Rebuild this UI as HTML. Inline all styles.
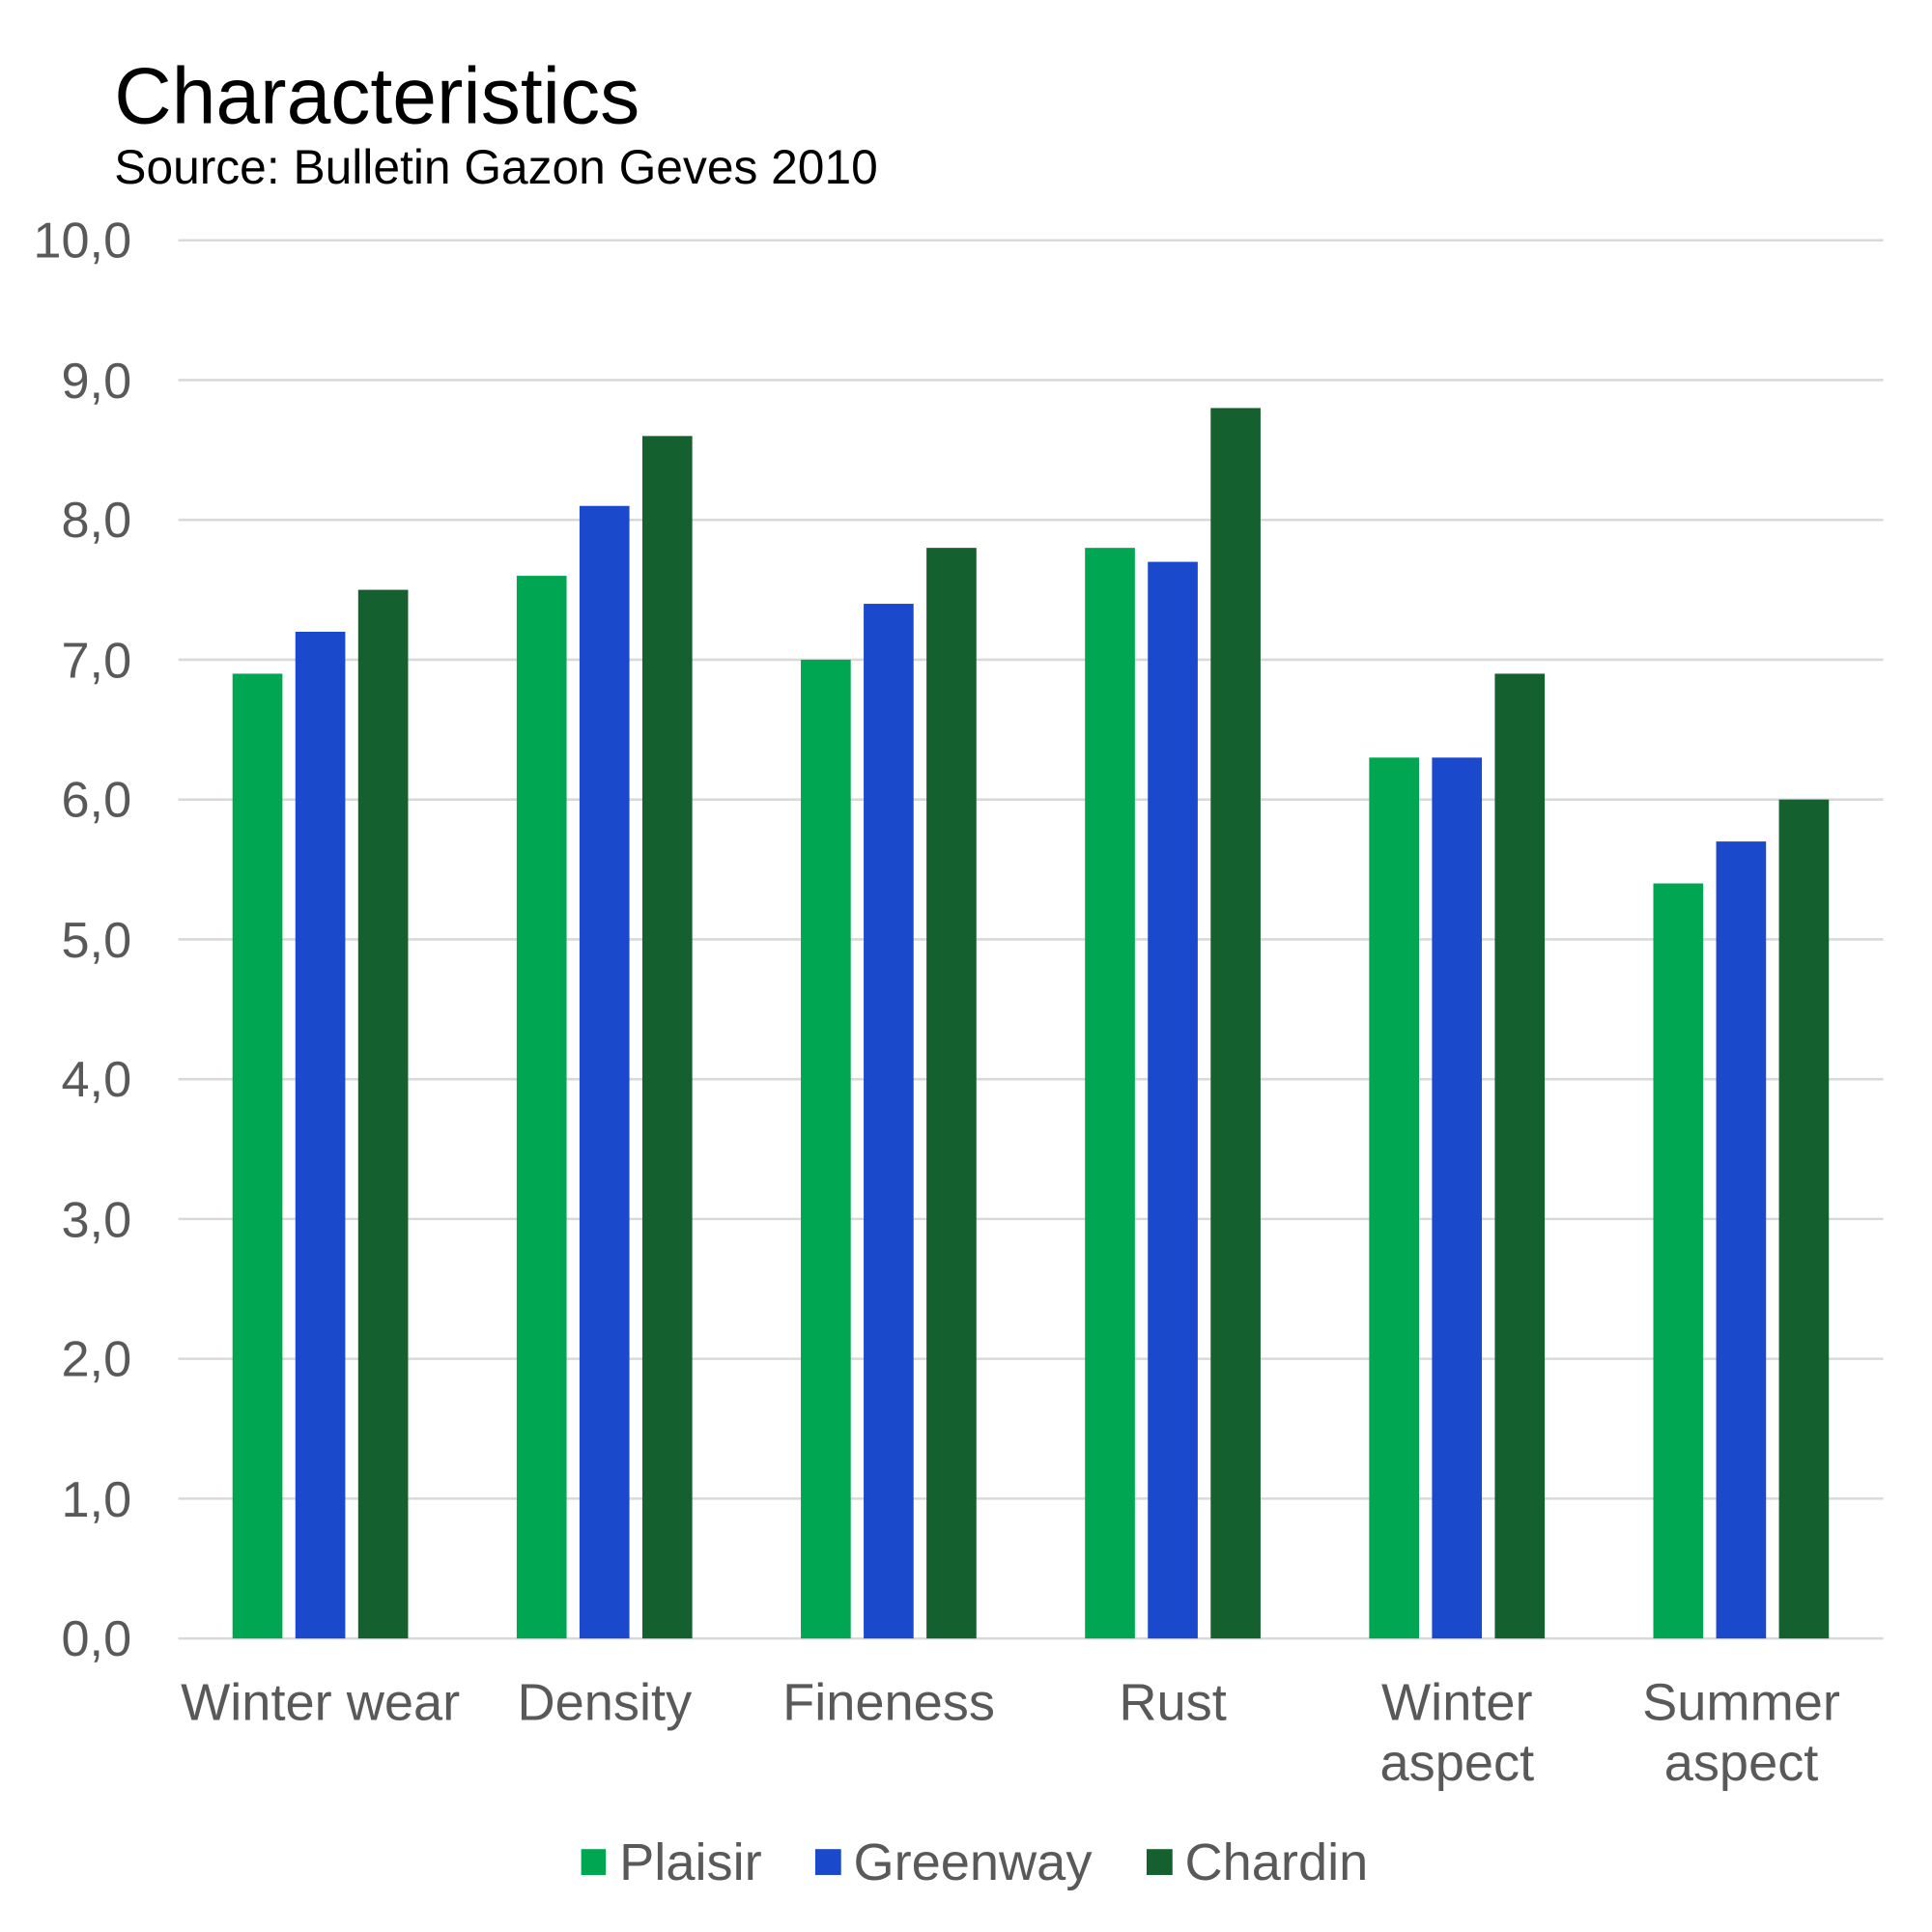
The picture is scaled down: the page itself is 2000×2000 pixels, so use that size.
<!DOCTYPE html>
<html><head><meta charset="utf-8"><style>html,body{margin:0;padding:0;background:#fff}svg{display:block}</style></head>
<body>
<svg width="2000" height="2000" viewBox="0 0 1560 1560" xmlns="http://www.w3.org/2000/svg" font-family="Liberation Sans, Arial, sans-serif">
<rect width="1560" height="1560" fill="#fff"/>
<g transform="translate(144,194) scale(0.9947) translate(-144,-194)">
<text x="92" y="99" font-size="64.5" fill="#000">Characteristics</text>
<text x="92" y="148" font-size="39" fill="#000">Source: Bulletin Gazon Geves 2010</text>
<g stroke="#d9d9d9" stroke-width="2">
<line x1="144" x2="1528" y1="194" y2="194"/><line x1="144" x2="1528" y1="307.5" y2="307.5"/>
<line x1="144" x2="1528" y1="421" y2="421"/><line x1="144" x2="1528" y1="534.5" y2="534.5"/>
<line x1="144" x2="1528" y1="648" y2="648"/><line x1="144" x2="1528" y1="761.5" y2="761.5"/>
<line x1="144" x2="1528" y1="875" y2="875"/><line x1="144" x2="1528" y1="988.5" y2="988.5"/>
<line x1="144" x2="1528" y1="1102" y2="1102"/><line x1="144" x2="1528" y1="1215.5" y2="1215.5"/>
<line x1="144" x2="1528" y1="1329" y2="1329"/>
</g>
<g font-size="41" fill="#595959" text-anchor="end">
<text x="106" y="208">10,0</text><text x="106" y="322">9,0</text><text x="106" y="435">8,0</text>
<text x="106" y="549">7,0</text><text x="106" y="662">6,0</text><text x="106" y="776">5,0</text>
<text x="106" y="889">4,0</text><text x="106" y="1003">3,0</text><text x="106" y="1116">2,0</text>
<text x="106" y="1230">1,0</text><text x="106" y="1343">0,0</text>
</g>
<g fill="#00A651">
<rect x="188" y="545.85" width="40.5" height="783.15"/>
<rect x="418.67" y="466.4" width="40.5" height="862.6"/>
<rect x="649.33" y="534.5" width="40.5" height="794.5"/>
<rect x="880" y="443.7" width="40.5" height="885.3"/>
<rect x="1110.67" y="613.95" width="40.5" height="715.05"/>
<rect x="1341.33" y="716.1" width="40.5" height="612.9"/>
</g>
<g fill="#1A49CC">
<rect x="239" y="511.8" width="40.5" height="817.2"/>
<rect x="469.67" y="409.65" width="40.5" height="919.35"/>
<rect x="700.33" y="489.1" width="40.5" height="839.9"/>
<rect x="931" y="455.05" width="40.5" height="873.95"/>
<rect x="1161.67" y="613.95" width="40.5" height="715.05"/>
<rect x="1392.33" y="682.05" width="40.5" height="646.95"/>
</g>
<g fill="#15602F">
<rect x="290" y="477.75" width="40.5" height="851.25"/>
<rect x="520.67" y="352.9" width="40.5" height="976.1"/>
<rect x="751.33" y="443.7" width="40.5" height="885.3"/>
<rect x="982" y="330.2" width="40.5" height="998.8"/>
<rect x="1212.67" y="545.85" width="40.5" height="783.15"/>
<rect x="1443.33" y="648" width="40.5" height="681"/>
</g>
<g font-size="42.5" fill="#595959" text-anchor="middle">
<text x="259.3" y="1395">Winter wear</text>
<text x="490" y="1395">Density</text>
<text x="720.7" y="1395">Fineness</text>
<text x="951.3" y="1395">Rust</text>
<text x="1182" y="1395">Winter</text><text x="1182" y="1444">aspect</text>
<text x="1412.7" y="1395">Summer</text><text x="1412.7" y="1444">aspect</text>
</g>
<rect x="471" y="1500" width="20" height="21" fill="#00A651"/>
<rect x="661" y="1500" width="21" height="21" fill="#1A49CC"/>
<rect x="930" y="1500" width="21" height="21" fill="#15602F"/>
<g font-size="42.5" fill="#595959">
<text x="502" y="1525">Plaisir</text><text x="692" y="1525">Greenway</text><text x="961" y="1525">Chardin</text>
</g>
</g>
</svg>
</body></html>
